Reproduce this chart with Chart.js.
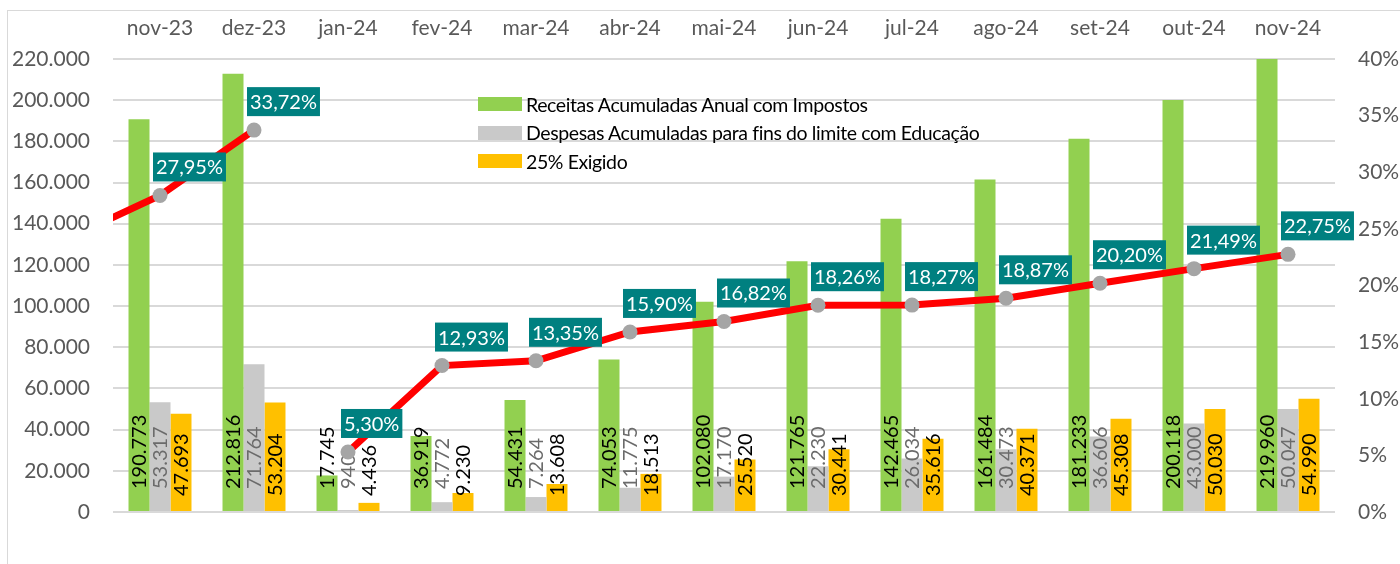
<!DOCTYPE html>
<html>
<head>
<meta charset="utf-8">
<script src="https://cdn.jsdelivr.net/npm/chart.js@4.4.1/dist/chart.umd.min.js"></script>
<style>
    body { margin: 0; background: #fff; }
    #wrap { position: relative; width: 1400px; height: 564px; overflow: hidden; }
    #moldura { position: absolute; left: 7px; top: 10px; width: 1500px; height: 700px; border: 1px solid #d9d9d9; }
    #grafico { position: absolute; left: 0; top: 0; }
    #legenda { position: absolute; left: 478px; top: 90px; font-family: Lato, sans-serif; font-size: 19.5px; letter-spacing: -0.4px; color: #000; }
    .item { display: flex; align-items: center; height: 28.5px; white-space: nowrap; }
    .cor { width: 44px; height: 14px; margin-right: 4px; }
</style>
</head>
<body>
<div id="wrap">
    <div id="moldura"></div>
    <canvas id="grafico" width="1400" height="564"></canvas>
    <div id="legenda"></div>
</div>
<script>
// DADOS (out-23 só serve para a linha que entra pela esquerda)
const meses = ['out-23', 'nov-23', 'dez-23', 'jan-24', 'fev-24', 'mar-24', 'abr-24', 'mai-24', 'jun-24', 'jul-24', 'ago-24', 'set-24', 'out-24', 'nov-24'];
const receitas = [null, 190773, 212816, 17745, 36919, 54431, 74053, 102080, 121765, 142465, 161484, 181233, 200118, 219960];
const despesas = [null, 53317, 71764, 940, 4772, 7264, 11775, 17170, 22230, 26034, 30473, 36606, 43000, 50047];
const exigido = [null, 47693, 53204, 4436, 9230, 13608, 18513, 25520, 30441, 35616, 40371, 45308, 50030, 54990];
const percentual = [24.1, 27.95, 33.72, 5.30, 12.93, 13.35, 15.90, 16.82, 18.26, 18.27, 18.87, 20.20, 21.49, 22.75];

const eixoValores = { max: 220000, passo: 20000 };
const eixoPercentual = { max: 40, passo: 5 };

const nomes = {
    receitas: 'Receitas Acumuladas Anual com Impostos',
    despesas: 'Despesas Acumuladas para fins do limite com Educação',
    exigido: '25% Exigido'
};

const FONTE = 'Lato, sans-serif';
const milhar = (v) => Math.round(v).toString().replace(/\B(?=(\d{3})+(?!\d))/g, '.');

// Rótulos das barras (girados) e da linha (caixas verde-petróleo)
const rotulos = {
    id: 'rotulos',
    afterDatasetDraw(chart, args) {
        const ds = chart.data.datasets[args.index];
        if (ds.type === 'line') return;
        const ctx = chart.ctx;
        ctx.save();
        ctx.font = `20px ${FONTE}`;
        ctx.fillStyle = ds.corRotulo;
        ctx.textAlign = 'left';
        ctx.textBaseline = 'middle';
        args.meta.data.forEach((bar, i) => {
            const v = ds.data[i];
            if (v == null) return;
            ctx.save();
            ctx.translate(bar.x, bar.base - ds.recuo);
            ctx.rotate(-Math.PI / 2);
            ctx.fillText(milhar(v), 0, 1);
            ctx.restore();
        });
        ctx.restore();
    },
    afterDatasetsDraw(chart) {
        const idx = chart.data.datasets.findIndex(d => d.type === 'line');
        const meta = chart.getDatasetMeta(idx);
        const area = chart.chartArea;
        const ctx = chart.ctx;
        ctx.save();
        ctx.font = `20px ${FONTE}`;
        ctx.textBaseline = 'middle';
        ctx.textAlign = 'left';
        meta.data.forEach((pt, i) => {
            if (pt.x < area.left) return;
            const txt = percentual[i].toFixed(2).replace('.', ',') + '%';
            const w = ctx.measureText(txt).width + 6;
            const h = 29;
            const x0 = pt.x - 7;
            const y0 = pt.y - 14 - h;
            ctx.fillStyle = '#008080';
            ctx.fillRect(x0, y0, w, h);
            ctx.fillStyle = '#ffffff';
            ctx.fillText(txt, x0 + 3, y0 + h / 2 + 1);
        });
        ctx.restore();
    }
};

const ctx = document.getElementById('grafico').getContext('2d');

new Chart(ctx, {
    data: {
        labels: meses,
        datasets: [
            {
                type: 'line',
                label: 'Percentual',
                data: percentual,
                yAxisID: 'y1',
                borderColor: '#ff0000',
                borderWidth: 7,
                pointRadius: 7.5,
                pointBackgroundColor: '#a5a5a5',
                pointBorderWidth: 0,
                tension: 0,
                order: 0,
                // a linha recomeça em janeiro (novo exercício)
                segment: {
                    borderColor: c => meses[c.p1DataIndex].startsWith('jan') ? 'rgba(0,0,0,0)' : undefined
                }
            },
            { type: 'bar', label: nomes.receitas, data: receitas, backgroundColor: '#92d050', yAxisID: 'y', order: 1, corRotulo: '#000000', recuo: 22 },
            { type: 'bar', label: nomes.despesas, data: despesas, backgroundColor: '#c9c9c9', yAxisID: 'y', order: 1, corRotulo: '#6b6b6b', recuo: 22 },
            { type: 'bar', label: nomes.exigido, data: exigido, backgroundColor: '#ffc000', yAxisID: 'y', order: 1, corRotulo: '#000000', recuo: 15 }
        ]
    },
    options: {
        responsive: false,
        animation: false,
        devicePixelRatio: 1,
        datasets: { bar: { barPercentage: 1, categoryPercentage: 0.67 } },
        layout: { padding: { left: 0, right: 0, top: 0, bottom: 52 } },
        plugins: {
            legend: { display: false },
            tooltip: { enabled: false }
        },
        scales: {
            x: {
                position: 'top',
                min: 'nov-23',
                offset: true,
                grid: { display: false, drawTicks: false },
                border: { display: false },
                ticks: { color: '#595959', font: { family: FONTE, size: 21 }, padding: 18, maxRotation: 0, autoSkip: false },
                afterFit: s => { s.height = 59; }
            },
            y: {
                position: 'left',
                min: 0,
                max: eixoValores.max,
                grid: { color: '#d9d9d9', lineWidth: 2, drawTicks: false },
                border: { display: false },
                ticks: { stepSize: eixoValores.passo, callback: v => milhar(v), color: '#595959', font: { family: FONTE, size: 21 }, padding: 23 },
                afterFit: s => { s.width = 113; }
            },
            y1: {
                position: 'right',
                min: 0,
                max: eixoPercentual.max,
                grid: { display: false, drawTicks: false },
                border: { display: false },
                ticks: { stepSize: eixoPercentual.passo, callback: v => v + '%', color: '#595959', font: { family: FONTE, size: 21 }, padding: 23 },
                afterFit: s => { s.width = 65; }
            }
        }
    },
    plugins: [rotulos]
});

// Legenda
const legenda = document.getElementById('legenda');
legenda.innerHTML = [
    ['#92d050', nomes.receitas],
    ['#c9c9c9', nomes.despesas],
    ['#ffc000', nomes.exigido]
].map(([cor, txt]) => `<div class="item"><span class="cor" style="background:${cor}"></span>${txt}</div>`).join('');
</script>
</body>
</html>
